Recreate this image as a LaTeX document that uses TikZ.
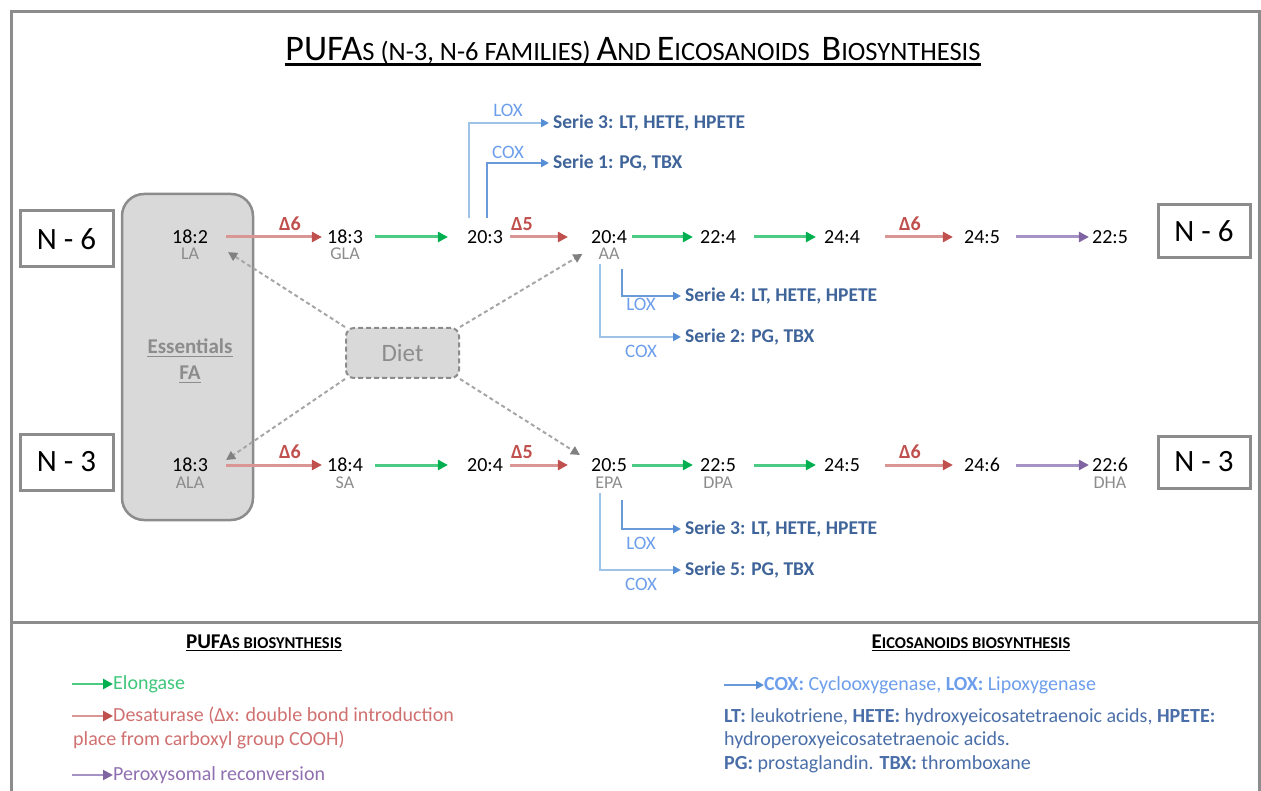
\documentclass[tikz,border=0pt]{standalone}
\usepackage{fontspec}
\setmainfont{Carlito}
\usetikzlibrary{arrows.meta}
\definecolor{framec}{HTML}{8C8C8C}
\definecolor{boxfill}{HTML}{D9D9D9}
\definecolor{graytxt}{HTML}{8C8C8C}
\definecolor{redline}{HTML}{D99694}
\definecolor{redhead}{HTML}{C0504D}
\definecolor{redtxt}{HTML}{C0504D}
\definecolor{grnline}{HTML}{4CCB85}
\definecolor{grnhead}{HTML}{00B050}
\definecolor{purline}{HTML}{A493C4}
\definecolor{purhead}{HTML}{8064A2}
\definecolor{bluelt}{HTML}{9DC3E6}
\definecolor{bluemd}{HTML}{6A9BD8}
\definecolor{bluehead}{HTML}{558ED5}
\definecolor{bluetxt}{HTML}{6D9EEB}
\definecolor{serietxt}{HTML}{3F6499}
\definecolor{legblue}{HTML}{4A6EA8}
\definecolor{leggrn}{HTML}{3EC67A}
\definecolor{legred}{HTML}{D07070}
\definecolor{legpur}{HTML}{9070B0}
\definecolor{dietline}{HTML}{A6A6A6}
\definecolor{diethead}{HTML}{808080}
\newcommand{\myfs}[2]{{\fontsize{#1}{#1}\selectfont #2}}
\tikzset{
  num/.style={inner sep=0, font=\fontsize{20}{20}\selectfont},
  sub/.style={inner sep=0, font=\fontsize{18}{18}\selectfont, text=graytxt},
  delta/.style={inner sep=0, font=\bfseries\fontsize{20}{20}\selectfont, text=redtxt},
  serie/.style={inner sep=0, anchor=west, font=\bfseries\fontsize{19.5}{19.5}\selectfont, text=serietxt},
  enz/.style={inner sep=0, font=\fontsize{19}{19}\selectfont, text=bluetxt},
  nbox/.style={draw=framec, line width=3, fill=white, font=\fontsize{31}{31}\selectfont, minimum width=93, minimum height=56, inner sep=0},
  elo/.style={line width=3, draw=grnline, -{Triangle[length=10,width=10,color=grnhead]}},
  des/.style={line width=3, draw=redline, -{Triangle[length=10,width=10,color=redhead]}},
  per/.style={line width=3, draw=purline, -{Triangle[length=10,width=10,color=purhead]}},
  bl1/.style={line width=2, draw=bluelt, -{Triangle[length=8,width=8,color=bluehead]}},
  bl2/.style={line width=2, draw=bluemd, -{Triangle[length=8,width=8,color=bluehead]}},
  dietarr/.style={line width=2, draw=dietline, dash pattern=on 4 off 3, -{Triangle[length=9,width=9,color=diethead]}},
  leg/.style={inner sep=0, anchor=west, font=\fontsize{20}{20}\selectfont},
}
\begin{document}
\begin{tikzpicture}[x=1pt,y=-1pt]
\useasboundingbox (0,0) rectangle (1261,791);
\clip (0,0) rectangle (1261,791);
% frame
\draw[framec, line width=3] (11,800) -- (11,12) -- (1259,12) -- (1259,800);
\draw[framec, line width=3] (11,622) -- (1259,622);
% title
\node[inner sep=0, anchor=base] (title) at (633,61) {\myfs{36}{PUFA}\myfs{26.5}{S (N-3, N-6 FAMILIES) }\myfs{36}{A}\myfs{26.5}{ND }\myfs{36}{E}\myfs{26.5}{ICOSANOIDS\ \ }\myfs{36}{B}\myfs{26.5}{IOSYNTHESIS}};
\draw[line width=2.5] ([yshift=-3.5]title.base west) -- ([yshift=-3.5]title.base east);
% essentials box
\node[draw=framec, line width=2.5, fill=boxfill, rounded corners=22, minimum width=131, minimum height=326, inner sep=0] (ess) at (187.5,357) {};
\node[inner sep=0, font=\bfseries\fontsize{21}{21}\selectfont, text=graytxt] (essA) at (190,346) {Essentials};
\node[inner sep=0, font=\bfseries\fontsize{21}{21}\selectfont, text=graytxt] (essB) at (190,373) {FA};
\draw[graytxt, line width=1.3] ([yshift=-3]essA.base west) -- ([yshift=-3]essA.base east);
\draw[graytxt, line width=1.3] ([yshift=-3]essB.base west) -- ([yshift=-3]essB.base east);
% diet box
\node[draw=framec, line width=2, dash pattern=on 5 off 3, fill=boxfill, rounded corners=8, minimum width=113, minimum height=50, inner sep=0, font=\fontsize{25}{25}\selectfont, text=graytxt] (diet) at (402.5,353) {Diet};
% N boxes
\node[nbox] (n6l) at (66.5,239) {N - 6};
\node[nbox] (n3l) at (66.5,462) {N - 3};
\node[nbox, minimum width=92, minimum height=53] (n6r) at (1204,231) {N - 6};
\node[nbox, minimum width=92, minimum height=52] (n3r) at (1204,462) {N - 3};
% N-6 chain
\node[num] (a1) at (190,237) {18:2};
\node[sub] (a1s) at (190,254) {LA};
\node[num] (a2) at (345,237) {18:3};
\node[sub] (a2s) at (345,254) {GLA};
\node[num] (a3) at (485,237) {20:3};
\node[num] (a4) at (609,237) {20:4};
\node[sub] (a4s) at (609,254) {AA};
\node[num] (a5) at (718,237) {22:4};
\node[num] (a6) at (842,237) {24:4};
\node[num] (a7) at (982,237) {24:5};
\node[num] (a8) at (1110,237) {22:5};
\draw[des] ([xshift=18]a1.east) -- ([xshift=-5]a2.west);
\draw[elo] ([xshift=12]a2.east) -- ([xshift=-19]a3.west);
\draw[des] ([xshift=7]a3.east) -- ([xshift=-23]a4.west);
\draw[elo] ([xshift=5]a4.east) -- ([xshift=-7]a5.west);
\draw[elo] ([xshift=18]a5.east) -- ([xshift=-8]a6.west);
\draw[des] ([xshift=25]a6.east) -- ([xshift=-11]a7.west);
\draw[per] ([xshift=16]a7.east) -- ([xshift=-3]a8.west);
\node[delta] (d1) at (290,224) {Δ6};
\node[delta] (d2) at (522,224) {Δ5};
\node[delta] (d3) at (910,224) {Δ6};
% N-3 chain
\node[num] (b1) at (190,465) {18:3};
\node[sub] (b1s) at (190,483) {ALA};
\node[num] (b2) at (345,465) {18:4};
\node[sub] (b2s) at (345,483) {SA};
\node[num] (b3) at (485,465) {20:4};
\node[num] (b4) at (609,465) {20:5};
\node[sub] (b4s) at (609,483) {EPA};
\node[num] (b5) at (718,465) {22:5};
\node[sub] (b5s) at (718,483) {DPA};
\node[num] (b6) at (842,465) {24:5};
\node[num] (b7) at (982,465) {24:6};
\node[num] (b8) at (1110,465) {22:6};
\node[sub] (b8s) at (1110,483) {DHA};
\draw[des] ([xshift=18]b1.east) -- ([xshift=-5]b2.west);
\draw[elo] ([xshift=12]b2.east) -- ([xshift=-19]b3.west);
\draw[des] ([xshift=7]b3.east) -- ([xshift=-23]b4.west);
\draw[elo] ([xshift=5]b4.east) -- ([xshift=-7]b5.west);
\draw[elo] ([xshift=18]b5.east) -- ([xshift=-8]b6.west);
\draw[des] ([xshift=25]b6.east) -- ([xshift=-11]b7.west);
\draw[per] ([xshift=16]b7.east) -- ([xshift=-3]b8.west);
\node[delta] (e1) at (290,452) {Δ6};
\node[delta] (e2) at (522,452) {Δ5};
\node[delta] (e3) at (910,452) {Δ6};
% eicosanoid branches from 20:3
\node[serie] (s3a) at (553,123) {Serie 3: LT, HETE, HPETE};
\node[serie] (s1) at (553,163) {Serie 1: PG, TBX};
\node[enz] (lx1) at (508,110) {LOX};
\node[enz] (cx1) at (508,152) {COX};
\draw[bl1] ([xshift=-16,yshift=12]a3.north) |- ([xshift=-4]s3a.west);
\draw[bl2] ([xshift=2,yshift=12]a3.north) |- ([xshift=-4]s1.west);
% from AA
\node[serie] (s4) at (685,296) {Serie 4: LT, HETE, HPETE};
\node[serie] (s2) at (685,337) {Serie 2: PG, TBX};
\node[enz] (lx2) at (641,304) {LOX};
\node[enz] (cx2) at (641,351) {COX};
\draw[bl1] ([xshift=-9,yshift=-4]a4s.south) |- ([xshift=-4]s2.west);
\draw[bl2] ([xshift=13,yshift=-9]a4s.south) |- ([xshift=-4]s4.west);
% from EPA
\node[serie] (s3b) at (685,529) {Serie 3: LT, HETE, HPETE};
\node[serie] (s5) at (685,570) {Serie 5: PG, TBX};
\node[enz] (lx3) at (641,543) {LOX};
\node[enz] (cx3) at (641,584) {COX};
\draw[bl1] ([xshift=-9,yshift=-4]b4s.south) |- ([xshift=-4]s5.west);
\draw[bl2] ([xshift=13,yshift=-11]b4s.south) |- ([xshift=-4]s3b.west);
% diet arrows
\draw[dietarr] (diet.north west) -- ([xshift=20,yshift=-8]a1.south east);
\draw[dietarr] (diet.north east) -- ([xshift=-16]a4s.west);
\draw[dietarr] (diet.south west) -- ([xshift=18,yshift=5]b1.east);
\draw[dietarr] (diet.south east) -- ([xshift=-11,yshift=10]b4.west);
% legend left
\node[inner sep=0, anchor=base, font=\bfseries] (lh1) at (264,648) {\myfs{21}{PUFA}\myfs{16.5}{S BIOSYNTHESIS}};
\draw[line width=1.5] ([yshift=-2.5]lh1.base west) -- ([yshift=-2.5]lh1.base east);
\node[leg, text=leggrn] (lelo) at (113,684) {Elongase};
\draw[elo, line width=2.5] ([xshift=-41]lelo.west) -- (lelo.west);
\node[leg, text=legred] (ldes) at (113,716) {Desaturase (Δx: double bond introduction};
\node[leg, text=legred] (ldes2) at (73,740) {place from carboxyl group COOH)};
\draw[des, line width=2.5] ([xshift=-41]ldes.west) -- (ldes.west);
\node[leg, text=legpur] (lper) at (113,775) {Peroxysomal reconversion};
\draw[per, line width=2] ([xshift=-41]lper.west) -- (lper.west);
% legend right
\node[inner sep=0, anchor=base, font=\bfseries] (lh2) at (971,648) {\myfs{21}{E}\myfs{16.5}{ICOSANOIDS BIOSYNTHESIS}};
\draw[line width=1.5] ([yshift=-2.5]lh2.base west) -- ([yshift=-2.5]lh2.base east);
\node[leg, text=bluetxt] (lcox) at (764,685) {\textbf{COX:} Cyclooxygenase, \textbf{LOX:} Lipoxygenase};
\draw[bl2] ([xshift=-40]lcox.west) -- (lcox.west);
\node[leg, text=legblue] (lt1) at (724,717) {\textbf{LT:} leukotriene, \textbf{HETE:} hydroxyeicosatetraenoic acids, \textbf{HPETE:}};
\node[leg, text=legblue] (lt2) at (724,740) {hydroperoxyeicosatetraenoic acids.};
\node[leg, text=legblue] (lt3) at (724,764) {\textbf{PG:} prostaglandin. \textbf{TBX:} thromboxane};
\end{tikzpicture}
\end{document}
